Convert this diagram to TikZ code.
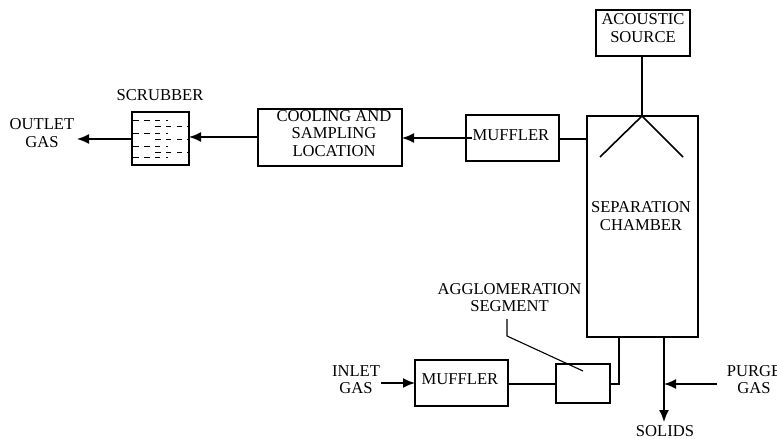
\documentclass[tikz,border=0pt]{standalone}
\usepackage{fontspec}
\setmainfont{Liberation Serif}
\usetikzlibrary{arrows.meta}
\tikzset{
  x=1pt,y=-1pt,
  box/.style={draw=black,line width=1.6pt,fill=none,inner sep=0pt,outer sep=0pt,anchor=north west},
  lbl/.style={font=\fontsize{16.6}{17.7}\selectfont,align=center,inner sep=0pt,text=black},
  conn/.style={line width=1.6pt,draw=black},
  arr/.style={conn,-{Latex[length=12pt,width=10pt]}},
  rowa/.style={line width=0.9pt,dash pattern=on 6pt off 5pt on 6pt off 5pt on 5pt off 6pt on 1.5pt off 20pt},
  rowb/.style={line width=0.9pt,dash pattern=on 6pt off 5pt on 5pt off 6pt on 5pt off 5pt on 1.5pt off 20pt}
}
\begin{document}
\begin{tikzpicture}
\useasboundingbox (0,0) rectangle (777,439);
\fill[white] (0,0) rectangle (777,439);
\node[box,minimum width=94pt,minimum height=46pt] (src) at (596,10) {};
\node[lbl] (srct) at (643,28) {ACOUSTIC\\SOURCE};
\node[box,minimum width=111pt,minimum height=221pt] (chamber) at (587,116) {};
\node[lbl] (chambert) at (641,216) {SEPARATION\\CHAMBER};
\node[box,minimum width=93pt,minimum height=46pt] (muf1) at (466,115) {};
\node[lbl] (muf1t) at (511,135) {MUFFLER};
\node[box,minimum width=144pt,minimum height=57pt] (cool) at (258,109) {};
\node[lbl] (coolt) at (334,133.5) {COOLING AND\\SAMPLING\\LOCATION};
\node[box,minimum width=57pt,minimum height=53pt] (scr) at (132,112) {};
\node[lbl] (scrt) at (160,95) {SCRUBBER};
\node[lbl] (outt) at (42,133) {OUTLET\\GAS};
\node[box,minimum width=93pt,minimum height=46pt] (muf2) at (415,360) {};
\node[lbl] (muf2t) at (460,379) {MUFFLER};
\node[box,line width=1.3pt,minimum width=54pt,minimum height=39pt] (seg) at (556,364) {};
\node[lbl] (segt) at (509.5,297.5) {AGGLOMERATION\\SEGMENT};
\node[lbl] (inlt) at (356,379.5) {INLET\\GAS};
\node[lbl] (purt) at (754,379.5) {PURGE\\GAS};
\node[lbl] (solt) at (665,431) {SOLIDS};
% connectors
\coordinate (apex) at (642,116);
\coordinate (fl) at (600,157);
\coordinate (fr) at (683,157);
\draw[conn] (src.south -| apex) -- (apex);
\draw[conn] (fl) -- (apex) -- (fr);
\draw[conn] (chamber.west |- 0,139) -- (muf1.east |- 0,139);
\coordinate (mufin) at (472,138);
\draw[arr] (mufin) -- (cool.east |- mufin);
\draw[arr] (cool.west |- 0,137) -- (scr.east |- 0,137);
\coordinate (outEnd) at (77,139);
\draw[arr] (scr.west |- outEnd) -- (outEnd);
\draw[conn] (muf2.east |- 0,384) -- (seg.west |- 0,384);
\draw[conn] (seg.east |- 0,384) -- (619,384) -- (chamber.south west -| 619,0);
\coordinate (solidsEnd) at (664,422);
\draw[arr] (chamber.south west -| solidsEnd) -- (solidsEnd);
\coordinate (purgeS) at (717,384);
\coordinate (purgeE) at (664,384);
\draw[arr] (purgeS) -- (purgeE);
\coordinate (inS) at (381,383);
\draw[arr] (inS) -- (muf2.west |- inS);
\coordinate (la) at (507,319);
\coordinate (lb) at (507,336);
\coordinate (lc) at (583,371);
\draw[line width=1.1pt] (la) -- (lb) -- (lc);
% scrubber dashes
\foreach \y in {120,133,146,157}{\draw[rowa] (133,\y) -- (168,\y);}
\foreach \y in {126,139,152}{\draw[rowb] (155,\y) -- (188,\y);}
\end{tikzpicture}
\end{document}
